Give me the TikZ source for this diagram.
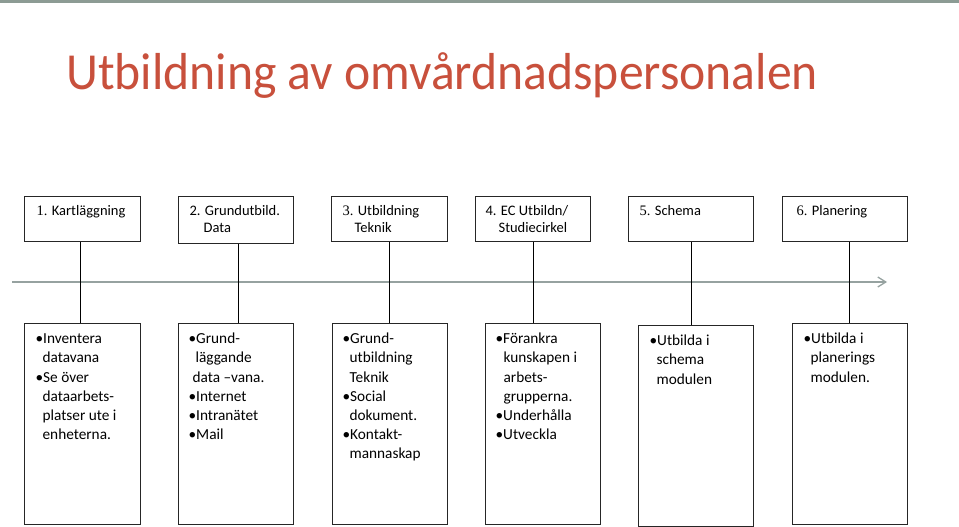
\documentclass[tikz,border=0pt]{standalone}
\usepackage{fontspec}
\setmainfont{Carlito}
\newfontfamily\serifdig{Liberation Serif}
\usetikzlibrary{arrows.meta}
\definecolor{titlered}{RGB}{200,80,60}
\definecolor{linegrey}{RGB}{150,162,160}
\definecolor{topgrey}{RGB}{140,155,148}
\newcommand{\fixbox}[3]{\begin{minipage}[t][#2][t]{#1}\noindent #3\end{minipage}}
\tikzset{
  stagebox/.style={draw=black!85, line width=1.2pt, inner sep=0pt, anchor=north west,
    font=\fontsize{14.5}{17}\selectfont},
  taskbox/.style={draw=black!85, line width=1.2pt, inner sep=0pt, anchor=north west,
    font=\fontsize{15.3}{19.2}\selectfont},
  link/.style={draw=black, line width=1.2pt},
  timeline/.style={draw=linegrey, line width=1.5pt, -{Straight Barb[length=8pt,width=10pt,line width=1.3pt]}},
}
\begin{document}
\begin{tikzpicture}[x=1pt,y=-1pt]
\useasboundingbox (0,0) rectangle (959,527);
\fill[topgrey] (0,0) rectangle (959,3.5);

\node[anchor=base west, text=titlered, font=\fontsize{52}{60}\selectfont, inner sep=0pt] (title) at (66,90) {\scalebox{0.955}[1]{Utbildning av omvårdnadspersonalen}};

% timeline
\coordinate (tl0) at (12,282);
\coordinate (tl1) at (887,282);
\draw[timeline] (tl0) -- (tl1);

% top stage boxes
\node[stagebox] (t1) at (24,196) {\fixbox{116pt}{45pt}{\rule{0pt}{19pt}\hspace*{12pt}{\serifdig 1.} Kartläggning}};
\node[stagebox] (t2) at (178,196) {\fixbox{115pt}{47pt}{\rule{0pt}{19pt}\hspace*{11pt}2. Grundutbild.\\\hspace*{25pt}Data}};
\node[stagebox] (t3) at (331,196) {\fixbox{116pt}{45pt}{\rule{0pt}{19pt}\hspace*{11pt}{\serifdig 3.} Utbildning\\\hspace*{23pt}Teknik}};
\node[stagebox] (t4) at (475,196) {\fixbox{115pt}{45pt}{\rule{0pt}{19pt}\hspace*{10pt}4. EC Utbildn/\\\hspace*{23pt}Studiecirkel}};
\node[stagebox] (t5) at (628,196) {\fixbox{125pt}{45pt}{\rule{0pt}{19pt}\hspace*{11pt}{\serifdig 5.} Schema}};
\node[stagebox] (t6) at (782,196) {\fixbox{125pt}{45pt}{\rule{0pt}{19pt}\hspace*{14pt}{\serifdig 6.} Planering}};

% bottom task boxes
\node[taskbox] (b1) at (24,323) {\fixbox{116pt}{201pt}{\rule{0pt}{20pt}\hspace*{11pt}•Inventera\\\hspace*{18pt}datavana\\\hspace*{11pt}•Se över\\\hspace*{18pt}dataarbets-\\\hspace*{18pt}platser ute i\\\hspace*{18pt}enheterna.}};
\node[taskbox] (b2) at (178,323) {\fixbox{115pt}{201pt}{\rule{0pt}{20pt}\hspace*{10pt}•Grund-\\\hspace*{17pt}läggande\\\hspace*{14pt}data –vana.\\\hspace*{10pt}•Internet\\\hspace*{10pt}•Intranätet\\\hspace*{10pt}•Mail}};
\node[taskbox] (b3) at (332,323) {\fixbox{115pt}{201pt}{\rule{0pt}{20pt}\hspace*{10pt}•Grund-\\\hspace*{17pt}utbildning\\\hspace*{17pt}Teknik\\\hspace*{10pt}•Social\\\hspace*{17pt}dokument.\\\hspace*{10pt}•Kontakt-\\\hspace*{17pt}mannaskap}};
\node[taskbox] (b4) at (485,323) {\fixbox{115pt}{201pt}{\rule{0pt}{20pt}\hspace*{10pt}•Förankra\\\hspace*{18pt}kunskapen i\\\hspace*{18pt}arbets-\\\hspace*{18pt}grupperna.\\\hspace*{10pt}•Underhålla\\\hspace*{10pt}•Utveckla}};
\node[taskbox] (b5) at (638,325) {\fixbox{115pt}{201pt}{\rule{0pt}{20pt}\hspace*{11pt}•Utbilda i\\\hspace*{18pt}schema\\\hspace*{18pt}modulen}};
\node[taskbox] (b6) at (792,323) {\fixbox{115pt}{201pt}{\rule{0pt}{20pt}\hspace*{11pt}•Utbilda i\\\hspace*{18pt}planerings\\\hspace*{18pt}modulen.}};

% connectors
\draw[link] ([xshift=-2pt]t1.south) -- ([xshift=-2pt]t1.south |- b1.north);
\draw[link] ([xshift=2.5pt]t2.south) -- ([xshift=2.5pt]t2.south |- b2.north);
\draw[link] (t3.south) -- (t3.south |- b3.north);
\draw[link] (t4.south) -- (t4.south |- b4.north);
\draw[link] (t5.south) -- (t5.south |- b5.north);
\draw[link] ([xshift=4.5pt]t6.south) -- ([xshift=4.5pt]t6.south |- b6.north);
\end{tikzpicture}
\end{document}
